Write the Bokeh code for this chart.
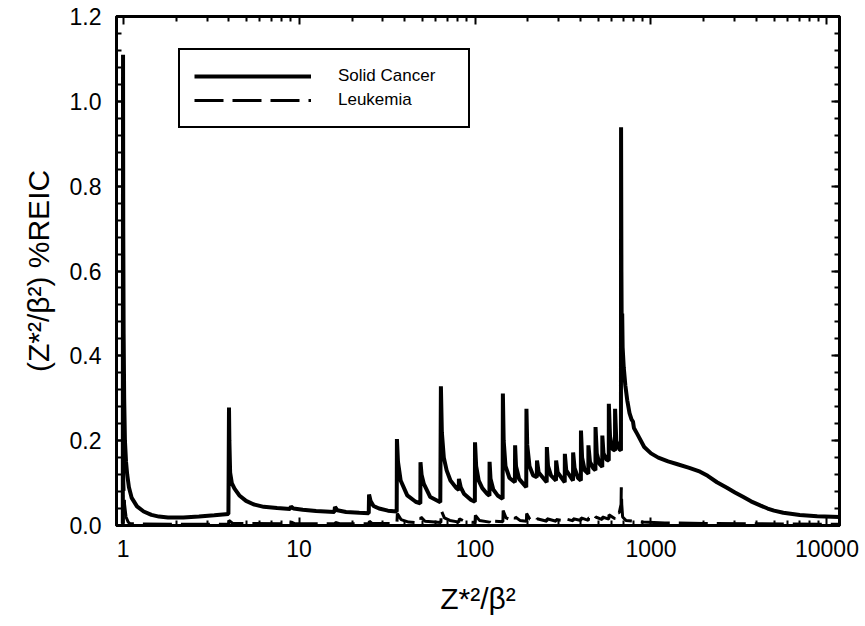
from bokeh.plotting import figure
from bokeh.models import (Range1d, LinearAxis, LogAxis, FixedTicker,
                          NumeralTickFormatter, CustomJSTickFormatter, ColumnDataSource)
from bokeh.embed import file_html
from bokeh.resources import INLINE

# ---- data ----
solid_x = [0.997, 1.0, 1.003, 1.008, 1.015, 1.025, 1.04, 1.056, 1.08, 1.12, 1.2, 1.31, 1.45, 1.6,
           1.8, 2.2, 2.7, 3.3, 3.97,
           4.0, 4.02, 4.06, 4.15, 4.3, 4.6, 5.0, 5.5, 6.3, 7.5, 8.9,
           9.0, 9.3, 10.5, 12.5, 15.9,
           16.0, 16.5, 18.5, 22.0, 24.9,
           25.0, 25.5, 26.5, 28.5, 32.0, 35.9,
           36.0, 36.5, 37.8, 41.2, 46.0, 48.9,
           49.0, 49.7, 51.2, 55.7, 63.5,
           64.0, 64.8, 66.5, 69.0, 72.5, 78.5, 80.9,
           81.0, 83.0, 86.5, 95.0, 99.8,
           100.0, 101.5, 105.0, 110.0, 117.0, 120.8,
           121.0, 122.5, 127.0, 135.0, 143.5,
           144.0, 145.5, 149.0, 157.0, 168.5,
           169.0, 171.0, 178.0, 195.5,
           196.0, 198.0, 204.0, 214.0, 224.5,
           225.0, 230.0, 255.5,
           256.0, 260.0, 270.0, 288.5,
           289.0, 295.0, 323.5,
           324.0, 330.0, 360.5,
           361.0, 368.0, 385.0, 399.5,
           400.0, 406.0, 420.0, 440.5,
           441.0, 450.0, 470.0, 483.5,
           484.0, 492.0, 510.0, 528.5,
           529.0, 537.0, 560.0, 575.5,
           576.0, 585.0, 605.0, 624.5,
           625.0, 635.0, 660.0, 675.0,
           676.0, 679.0, 682.0, 686.0, 690.0, 700.0, 715.0, 733.0, 755.0, 775.0, 790.0,
           800.0, 835.0, 915.0, 1000.0, 1100.0, 1250.0, 1400.0, 1650.0, 1900.0, 2100.0,
           2370.0, 2700.0, 3000.0, 3350.0, 3700.0, 4200.0, 4600.0, 5000.0, 5650.0, 7000.0,
           8800.0, 11780.0]
solid_y = [0.005, 1.11, 0.70, 0.45, 0.30, 0.20, 0.15, 0.12, 0.09, 0.065, 0.045, 0.033, 0.025, 0.021,
           0.019, 0.019, 0.021, 0.024, 0.027,
           0.278, 0.20, 0.125, 0.10, 0.087, 0.070, 0.058, 0.050, 0.044, 0.041, 0.039,
           0.045, 0.040, 0.037, 0.034, 0.032,
           0.044, 0.036, 0.032, 0.030, 0.029,
           0.073, 0.058, 0.046, 0.040, 0.035, 0.033,
           0.204, 0.150, 0.106, 0.071, 0.056, 0.052,
           0.149, 0.120, 0.098, 0.067, 0.055,
           0.328, 0.220, 0.160, 0.130, 0.106, 0.088, 0.084,
           0.110, 0.090, 0.075, 0.060, 0.056,
           0.196, 0.140, 0.106, 0.088, 0.075, 0.070,
           0.150, 0.110, 0.085, 0.070, 0.063,
           0.311, 0.200, 0.140, 0.112, 0.102,
           0.189, 0.140, 0.110, 0.090,
           0.275, 0.190, 0.140, 0.118, 0.114,
           0.153, 0.125, 0.102,
           0.185, 0.140, 0.118, 0.106,
           0.153, 0.125, 0.102,
           0.169, 0.130, 0.106,
           0.172, 0.135, 0.112, 0.106,
           0.224, 0.160, 0.130, 0.122,
           0.189, 0.150, 0.135, 0.130,
           0.232, 0.170, 0.145, 0.138,
           0.212, 0.170, 0.155, 0.153,
           0.287, 0.210, 0.180, 0.177,
           0.275, 0.200, 0.180, 0.177,
           0.939, 0.600, 0.450, 0.500, 0.420, 0.373, 0.330, 0.295, 0.265, 0.250, 0.245,
           0.230, 0.216, 0.185, 0.170, 0.160, 0.151, 0.145, 0.136, 0.127, 0.117,
           0.102, 0.089, 0.078, 0.067, 0.057, 0.047, 0.040, 0.035, 0.030, 0.025,
           0.022, 0.020]

leuk_x = [0.995, 1.0, 1.004, 1.01, 1.02, 1.04, 1.07, 1.1, 2.0, 3.98, 4.0, 4.2, 9.0, 9.05, 9.5,
          16.0, 16.1, 17.0, 25.0, 25.1, 26.0, 36.0, 36.2, 38.0, 42.0, 49.0, 49.3, 52.0,
          64.0, 64.3, 67.0, 72.0, 81.0, 81.5, 88.0, 100.0, 100.5, 106.0, 121.0, 121.5, 130.0,
          144.0, 144.5, 150.0, 169.0, 169.5, 180.0, 196.0, 196.5, 205.0, 225.0, 225.5,
          256.0, 256.5, 289.0, 289.5, 324.0, 324.5, 361.0, 361.5, 400.0, 400.5, 441.0, 441.5,
          484.0, 484.5, 529.0, 529.5, 576.0, 577.0, 625.0, 626.0, 660.0, 676.0, 678.0, 682.0,
          690.0, 720.0, 800.0, 900.0, 1200.0, 2000.0, 4000.0, 11780.0]
leuk_y = [0.003, 0.39, 0.20, 0.10, 0.05, 0.02, 0.008, 0.004, 0.003, 0.003, 0.012, 0.005, 0.004, 0.008, 0.004,
          0.004, 0.007, 0.004, 0.004, 0.010, 0.005, 0.005, 0.028, 0.014, 0.008, 0.006, 0.020, 0.010,
          0.007, 0.035, 0.018, 0.012, 0.008, 0.016, 0.009, 0.007, 0.024, 0.012, 0.008, 0.018, 0.010,
          0.009, 0.035, 0.018, 0.010, 0.020, 0.012, 0.010, 0.028, 0.015, 0.010, 0.016,
          0.010, 0.016, 0.010, 0.014, 0.011, 0.016, 0.011, 0.016, 0.012, 0.018, 0.012, 0.018,
          0.013, 0.020, 0.014, 0.020, 0.015, 0.025, 0.016, 0.030, 0.030, 0.050, 0.090, 0.050,
          0.020, 0.012, 0.010, 0.008, 0.006, 0.005, 0.004, 0.003]

x_major_ticks = [1, 10, 100, 1000, 10000]
x_minor_ticks = [m * 10 ** e for e in range(-1, 5) for m in range(2, 10)]
y_major_ticks = [0.0, 0.2, 0.4, 0.6, 0.8, 1.0, 1.2]
y_minor_ticks = [round(i * 0.04, 2) for i in range(31)]
series_names = ["Solid Cancer", "Leukemia"]
x_title = "Z*²/β²"
y_title = "(Z*²/β²) %REIC"

FONT = "Liberation Sans"

p = figure(x_axis_type="log", x_range=Range1d(0.918, 11780), y_range=Range1d(0, 1.2),
           frame_width=723, frame_height=509,
           min_border_left=116, min_border_right=22, min_border_top=16, min_border_bottom=95,
           output_backend="svg", toolbar_location=None,
           background_fill_color="white", border_fill_color="white")
p.grid.visible = False
p.outline_line_color = "black"
p.outline_line_width = 3

src_s = ColumnDataSource(dict(x=solid_x, y=solid_y))
src_l = ColumnDataSource(dict(x=leuk_x, y=leuk_y))
p.line("x", "y", source=src_s, line_color="black", line_width=4, legend_label=series_names[0])
p.line("x", "y", source=src_l, line_color="black", line_width=3, line_dash="29 9",
       legend_label=series_names[1])

xticker = FixedTicker(ticks=x_major_ticks, minor_ticks=x_minor_ticks)
yticker = FixedTicker(ticks=y_major_ticks, minor_ticks=y_minor_ticks)


def style(ax):
    ax.axis_line_color = "black"
    ax.axis_line_width = 3
    ax.major_tick_in = 8
    ax.major_tick_out = 0
    ax.minor_tick_in = 5
    ax.minor_tick_out = 0
    ax.major_tick_line_width = 2
    ax.minor_tick_line_width = 2
    ax.major_tick_line_color = "black"
    ax.minor_tick_line_color = "black"
    ax.major_label_text_font = FONT
    ax.major_label_text_font_size = "23px"
    ax.major_label_text_color = "black"
    ax.axis_label_text_font = FONT
    ax.axis_label_text_font_size = "30px"
    ax.axis_label_text_font_style = "normal"
    ax.axis_label_text_color = "black"


xa = p.xaxis[0]
xa.ticker = xticker
xa.formatter = NumeralTickFormatter(format="0")
xa.axis_label = x_title
xa.major_label_standoff = 14
xa.axis_label_standoff = 22
style(xa)

ya = p.yaxis[0]
ya.ticker = yticker
ya.formatter = NumeralTickFormatter(format="0.0")
ya.axis_label = y_title
ya.major_label_standoff = 15
ya.axis_label_standoff = 12
style(ya)

blank = CustomJSTickFormatter(code="return ''")
top = LogAxis(ticker=xticker, formatter=blank, major_label_standoff=0)
style(top)
p.add_layout(top, "above")
right = LinearAxis(ticker=yticker, formatter=blank, major_label_standoff=0)
style(right)
p.add_layout(right, "right")

leg = p.legend[0]
leg.location = (62, 397)
leg.margin = 0
leg.padding = 14
leg.spacing = 0
leg.border_line_color = "black"
leg.border_line_alpha = 1
leg.border_line_width = 2
leg.background_fill_color = "white"
leg.background_fill_alpha = 1
leg.glyph_width = 117
leg.glyph_height = 24
leg.label_height = 24
leg.label_width = 116
leg.label_standoff = 27
leg.label_text_font = FONT
leg.label_text_font_size = "17px"
leg.label_text_color = "black"

open("out.html", "w").write(file_html(p, INLINE))
